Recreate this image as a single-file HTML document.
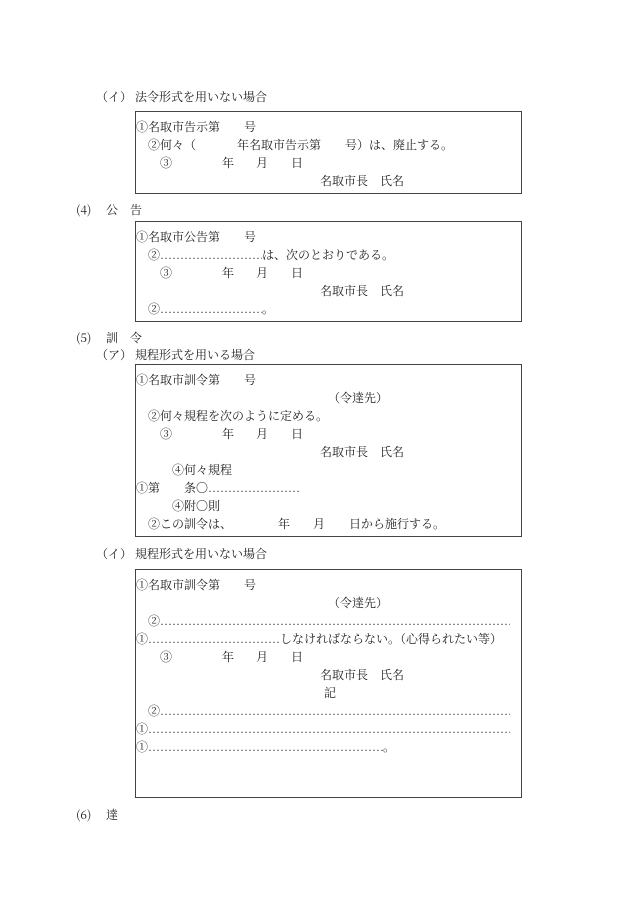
<!DOCTYPE html>
<html><head><meta charset="utf-8"><style>
html,body{margin:0;padding:0;background:#fff;}
body{width:630px;height:915px;position:relative;overflow:hidden;font-family:"Noto Serif CJK SC","Noto Sans CJK JP",serif;font-size:12px;color:#222;}
.t{position:absolute;white-space:pre;line-height:16px;height:16px;}
.d{position:absolute;overflow:hidden;white-space:pre;line-height:16px;height:16px;color:#333;font-family:"Liberation Serif",serif;}
.b{position:absolute;border:1px solid #444;left:135px;width:385px;}
</style></head><body>
<div class="t" style="left:96px;top:89px">（イ）</div>
<div class="t" style="left:135px;top:89px">法令形式を用いない場合</div>
<div class="b" style="top:111px;height:81px"></div>
<div class="t" style="left:136px;top:119px">①名取市告示第　　号</div>
<div class="t" style="left:148px;top:137px">②何々（</div>
<div class="t" style="left:237px;top:137px">年名取市告示第　　号）は、廃止する。</div>
<div class="t" style="left:160px;top:155px">③</div>
<div class="t" style="left:222px;top:155px">年</div>
<div class="t" style="left:256px;top:155px">月</div>
<div class="t" style="left:291px;top:155px">日</div>
<div class="t" style="left:320px;top:173px">名取市長　氏名</div>

<div class="t" style="left:76px;top:202px">(4)</div>
<div class="t" style="left:106px;top:202px">公　告</div>
<div class="b" style="top:221px;height:99px"></div>
<div class="t" style="left:136px;top:229px">①名取市公告第　　号</div>
<div class="t" style="left:148px;top:247px">②</div>
<div class="d" style="left:160px;top:247px;width:102px">……………………………………………</div>
<div class="t" style="left:262px;top:247px">は、次のとおりである。</div>
<div class="t" style="left:160px;top:265px">③</div>
<div class="t" style="left:222px;top:265px">年</div>
<div class="t" style="left:256px;top:265px">月</div>
<div class="t" style="left:291px;top:265px">日</div>
<div class="t" style="left:320px;top:283px">名取市長　氏名</div>
<div class="t" style="left:148px;top:301px">②</div>
<div class="d" style="left:160px;top:301px;width:102px">……………………………………………</div>
<div class="t" style="left:262px;top:301px">。</div>

<div class="t" style="left:76px;top:330px">(5)</div>
<div class="t" style="left:106px;top:330px">訓　令</div>
<div class="t" style="left:96px;top:347px">（ア）</div>
<div class="t" style="left:135px;top:347px">規程形式を用いる場合</div>
<div class="b" style="top:364px;height:171px"></div>
<div class="t" style="left:136px;top:372px">①名取市訓令第　　号</div>
<div class="t" style="left:328px;top:390px">（令達先）</div>
<div class="t" style="left:148px;top:408px">②何々規程を次のように定める。</div>
<div class="t" style="left:160px;top:426px">③</div>
<div class="t" style="left:222px;top:426px">年</div>
<div class="t" style="left:256px;top:426px">月</div>
<div class="t" style="left:291px;top:426px">日</div>
<div class="t" style="left:320px;top:444px">名取市長　氏名</div>
<div class="t" style="left:172px;top:462px">④何々規程</div>
<div class="t" style="left:136px;top:480px">①第　　条〇</div>
<div class="d" style="left:208px;top:480px;width:93px">……………………………………</div>
<div class="t" style="left:172px;top:498px">④附〇則</div>
<div class="t" style="left:148px;top:516px">②この訓令は、</div>
<div class="t" style="left:278px;top:516px">年</div>
<div class="t" style="left:313px;top:516px">月</div>
<div class="t" style="left:349px;top:516px">日から施行する。</div>

<div class="t" style="left:96px;top:546px">（イ）</div>
<div class="t" style="left:135px;top:546px">規程形式を用いない場合</div>
<div class="b" style="top:569px;height:227px"></div>
<div class="t" style="left:136px;top:577px">①名取市訓令第　　号</div>
<div class="t" style="left:328px;top:595px">（令達先）</div>
<div class="t" style="left:148px;top:613px">②</div>
<div class="d" style="left:160px;top:613px;width:350px">………………………………………………………………………………………………………………………</div>
<div class="t" style="left:136px;top:631px">①</div>
<div class="d" style="left:148px;top:631px;width:132px">…………………………………………………</div>
<div class="t" style="left:280px;top:631px">しなければならない。（心得られたい等）</div>
<div class="t" style="left:160px;top:649px">③</div>
<div class="t" style="left:222px;top:649px">年</div>
<div class="t" style="left:256px;top:649px">月</div>
<div class="t" style="left:291px;top:649px">日</div>
<div class="t" style="left:320px;top:667px">名取市長　氏名</div>
<div class="t" style="left:324px;top:685px">記</div>
<div class="t" style="left:148px;top:703px">②</div>
<div class="d" style="left:160px;top:703px;width:350px">………………………………………………………………………………………………………………………</div>
<div class="t" style="left:136px;top:721px">①</div>
<div class="d" style="left:148px;top:721px;width:362px">………………………………………………………………………………………………………………………</div>
<div class="t" style="left:136px;top:739px">①</div>
<div class="d" style="left:148px;top:739px;width:235px">………………………………………………………………………………………………………………………</div>
<div class="t" style="left:383px;top:739px">。</div>

<div class="t" style="left:76px;top:807px">(6)</div>
<div class="t" style="left:106px;top:807px">達</div>
</body></html>
